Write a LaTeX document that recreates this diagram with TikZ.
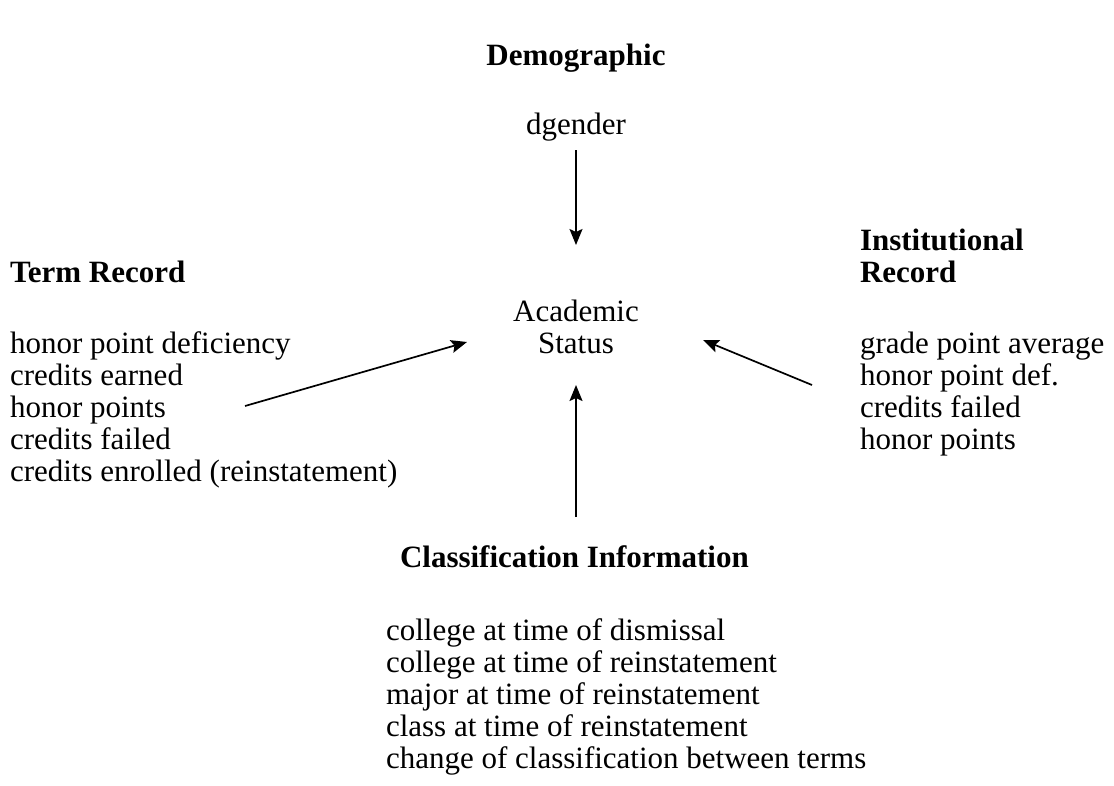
\documentclass[tikz,border=0pt]{standalone}
\usepackage{fontspec}
\setmainfont{Liberation Serif}
\usetikzlibrary{arrows.meta}
\tikzset{
  txt/.style={inner sep=0pt, outer sep=0pt, font=\fontsize{31}{32}\selectfont},
  hdr/.style={txt, font=\fontsize{31}{32}\selectfont\bfseries},
  arr/.style={line width=1.7pt, -{Stealth[length=16pt,width=13pt,inset=3pt]}}
}
\begin{document}
\begin{tikzpicture}[x=1pt,y=-1pt]
\useasboundingbox (0,0) rectangle (1114,785);
% headers
\node[hdr, anchor=base] (demo) at (576,65) {Demographic};
\node[txt, anchor=base] (dg) at (576,134) {dgender};
\node[hdr, anchor=base west] (term) at (10,282) {Term Record};
\node[hdr, anchor=base west] (inst1) at (860,250) {Institutional};
\node[hdr, anchor=base west] (inst2) at (860,282) {Record};
\node[txt, anchor=base] (ac1) at (576,321) {Academic};
\node[txt, anchor=base] (ac2) at (576,353) {Status};
\node[hdr, anchor=base west] (cls) at (400,567) {Classification Information};
% term record list
\foreach \t [count=\i] in {honor point deficiency, credits earned, honor points, credits failed, credits enrolled (reinstatement)}
  \node[txt, anchor=base west] (tr\i) at (10,{353+32*(\i-1)}) {\t};
% institutional list
\foreach \t [count=\i] in {grade point average, honor point def., credits failed, honor points}
  \node[txt, anchor=base west] (ir\i) at (860,{353+32*(\i-1)}) {\t};
% classification list
\foreach \t [count=\i] in {college at time of dismissal, college at time of reinstatement, major at time of reinstatement, class at time of reinstatement, change of classification between terms}
  \node[txt, anchor=base west] (ci\i) at (386,{640+32*(\i-1)}) {\t};
% arrow endpoints
\coordinate (topS) at (576,150);
\coordinate (topE) at (576,245);
\coordinate (leftS) at (245,406);
\coordinate (leftE) at (467,342);
\coordinate (rightS) at (812,385);
\coordinate (rightE) at (703,340);
\coordinate (botS) at (576,517);
\coordinate (botE) at (576,385);
\draw[arr] (topS) -- (topE);
\draw[arr] (leftS) -- (leftE);
\draw[arr] (rightS) -- (rightE);
\draw[arr] (botS) -- (botE);
\end{tikzpicture}
\end{document}
